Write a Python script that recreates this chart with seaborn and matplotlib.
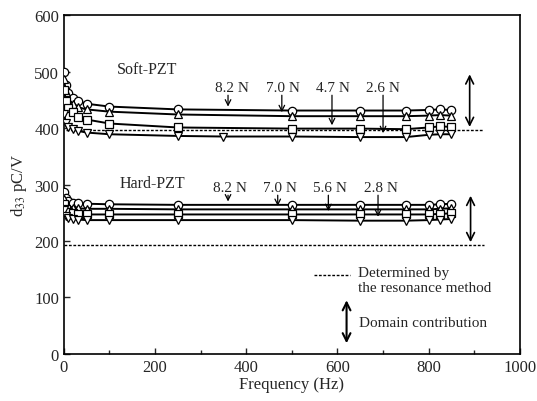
import matplotlib
matplotlib.use('Agg')
import matplotlib.pyplot as plt
from matplotlib.ticker import MultipleLocator
import pandas as pd
import seaborn as sns

# frequencies (Hz)
freq = [0, 5, 10, 20, 30, 50, 100, 250, 500, 650, 750, 800, 825, 850]
freq_soft_low = [0, 5, 10, 20, 30, 50, 100, 250, 350, 500, 650, 750, 800, 825, 850]

# Soft-PZT, d33 (pC/V)
soft_82 = [500, 476, 462, 453, 448, 443, 438, 433, 431, 431, 431, 432, 433, 432]
soft_70 = [486, 463, 450, 442, 437, 433, 429, 424, 421, 421, 421, 422, 423, 422]
soft_47 = [467, 447, 436, 428, 420, 415, 408, 401, 399, 399, 398, 401, 403, 402]
soft_26 = [424, 409, 402, 398, 395, 392, 389, 386, 385, 385, 384, 384, 388, 389, 389]

# Hard-PZT, d33 (pC/V)
hard_82 = [287, 276, 270, 268, 267, 266, 265, 264, 264, 264, 264, 264, 265, 266]
hard_70 = [275, 266, 261, 259, 258, 257, 257, 256, 256, 256, 256, 256, 257, 258]
hard_56 = [265, 256, 251, 249, 248, 247, 247, 247, 247, 247, 247, 247, 248, 249]
hard_28 = [255, 244, 240, 239, 238, 237, 237, 237, 237, 236, 236, 237, 238, 239]

soft_ref = 397
hard_ref = 193

soft_labels = ['8.2 N', '7.0 N', '4.7 N', '2.6 N']
hard_labels = ['8.2 N', '7.0 N', '5.6 N', '2.8 N']

sns.set_style('ticks')
plt.rcParams['font.family'] = ['Liberation Serif', 'DejaVu Serif']
plt.rcParams['mathtext.fontset'] = 'stix'

fig = plt.figure(figsize=(5.37, 4.02), dpi=100)
ax = fig.add_axes([0.119, 0.117, 0.849, 0.843])

series = [
    (freq, soft_82, 'o'), (freq, soft_70, '^'), (freq, soft_47, 's'), (freq_soft_low, soft_26, 'v'),
    (freq, hard_82, 'o'), (freq, hard_70, '^'), (freq, hard_56, 's'), (freq, hard_28, 'v'),
]
for x, y, m in series:
    df = pd.DataFrame({'f': x, 'd33': y})
    sns.lineplot(data=df, x='f', y='d33', ax=ax, color='black', lw=1.4,
                 marker=m, markersize=6, markerfacecolor='white',
                 markeredgecolor='black', markeredgewidth=0.9, zorder=3)

# resonance method reference lines
ax.plot([5, 920], [soft_ref, soft_ref], ls=(0, (2, 1.2)), color='black', lw=1.0, zorder=2)
ax.plot([0, 922], [hard_ref, hard_ref], ls=(0, (2, 1.2)), color='black', lw=1.0, zorder=2)

# domain contribution arrows
arr = dict(arrowstyle='<->', color='black', lw=1.2, mutation_scale=14)
ax.annotate('', xy=(890, 500), xytext=(890, soft_ref), arrowprops=arr)
ax.annotate('', xy=(892, 285), xytext=(892, hard_ref), arrowprops=arr)

fs = 11
ax.text(182, 504, 'Soft-PZT', fontsize=fs + 0.5, ha='center', va='center')
ax.text(195, 302, 'Hard-PZT', fontsize=fs + 0.5, ha='center', va='center')

down = dict(arrowstyle='->', color='black', lw=0.9, mutation_scale=10)
soft_pos = [(368, 360, 433), (480, 478, 423), (590, 588, 400), (700, 700, 386)]
for lab, (xt, xa, tip) in zip(soft_labels, soft_pos):
    ax.text(xt, 472, lab, fontsize=fs, ha='center', va='center')
    ax.annotate('', xy=(xa, tip), xytext=(xa, 463), arrowprops=down)
hard_pos = [(364, 360, 265), (474, 469, 257), (584, 580, 248), (696, 689, 238)]
for lab, (xt, xa, tip) in zip(hard_labels, hard_pos):
    ax.text(xt, 295, lab, fontsize=fs, ha='center', va='center')
    ax.annotate('', xy=(xa, tip), xytext=(xa, 286), arrowprops=down)

# legend-like annotations
ax.plot([548, 628], [140, 140], ls=(0, (2, 1.2)), color='black', lw=1.0)
ax.text(645, 145, 'Determined by', fontsize=fs, ha='left', va='center')
ax.text(645, 118, 'the resonance method', fontsize=fs, ha='left', va='center')
ax.annotate('', xy=(620, 100), xytext=(620, 14),
            arrowprops=dict(arrowstyle='<->', color='black', lw=1.5, mutation_scale=14))
ax.text(647, 56, 'Domain contribution', fontsize=fs, ha='left', va='center')

ax.set_xlim(0, 1000)
ax.set_ylim(0, 600)
ax.xaxis.set_major_locator(MultipleLocator(200))
ax.xaxis.set_minor_locator(MultipleLocator(100))
ax.yaxis.set_major_locator(MultipleLocator(100))
ax.tick_params(direction='in', labelsize=12, length=4, width=1)
ax.tick_params(which='minor', direction='in', length=3, width=1)
ax.set_xlabel('Frequency (Hz)', fontsize=12, labelpad=1)
ax.set_ylabel('d$_{33}$ pC/V', fontsize=12, labelpad=4)
for s in ax.spines.values():
    s.set_linewidth(1.2)
    s.set_color('black')

fig.savefig('out.png', dpi=100)
